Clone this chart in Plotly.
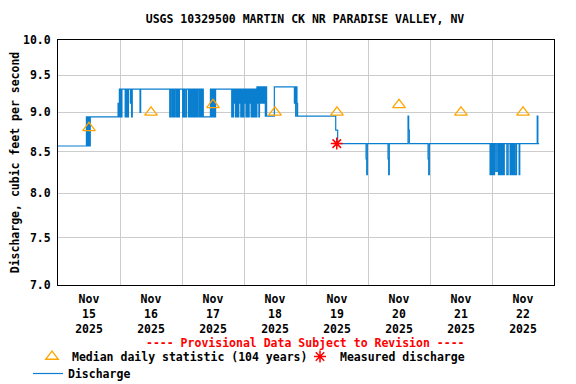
import plotly.graph_objects as go
import pandas as pd

# ---------------- data ----------------
start = pd.Timestamp("2025-11-15 00:00")

# Discharge (cfs), step changes: hours after 2025-11-15 00:00 and value from that time on
q_hours = [
    0.0, 11.0, 11.25, 11.5, 11.75, 12.0, 12.25, 12.5,
    23.25, 23.5, 23.75, 24.0, 24.25, 24.5, 24.75,
    26.0, 26.25, 26.5, 26.75, 27.0, 27.25,
    28.0, 28.25, 28.5, 28.75,
    31.75, 32.0,
    43.25, 43.5,
    44.0, 44.25, 44.5, 44.75, 45.0, 45.25,
    45.75, 46.0, 46.25, 46.5, 46.75, 47.0,
    48.25, 48.5, 48.75, 49.0, 49.25, 49.75,
    50.5, 50.75, 51.0, 51.25, 51.5, 51.75, 52.0, 52.25, 52.5, 52.75, 53.0, 53.25, 53.5, 53.75, 54.0, 54.25,
    54.75, 55.0, 55.25, 55.5, 55.75, 56.0, 56.25,
    59.0, 59.25, 59.5, 59.75, 60.0, 60.25, 60.5, 60.75, 61.0,
    67.25, 67.5, 67.75, 68.0, 68.25, 68.5, 68.75, 69.0, 69.25, 69.5, 69.75, 70.0,
    70.25, 70.5, 70.75, 71.0, 71.25, 71.5, 71.75, 72.0, 72.25, 72.5, 72.75, 73.0,
    73.25, 73.5, 73.75, 74.0, 74.25, 74.5, 74.75, 75.0, 75.25, 75.5, 75.75, 76.0,
    76.25, 76.5, 76.75,
    77.0, 77.25, 77.5, 77.75, 78.0, 78.25, 78.5, 78.75, 79.0, 79.25, 79.5, 79.75,
    80.0, 80.25, 80.5, 80.75,
    83.75,
    91.5, 91.75, 92.0, 92.25, 92.5, 92.75,
    107.5, 108.25,
    119.25, 119.5, 119.75,
    127.75, 128.0, 128.25,
    135.5, 135.75, 136.0,
    143.25, 143.5, 143.75,
    167.25, 167.5, 167.75, 168.0, 168.25, 168.5, 168.75, 169.0,
    169.5, 170.0,
    170.5, 170.75, 171.0, 171.25, 171.5, 171.75, 172.0, 172.25, 172.5, 172.75,
    173.75, 174.25,
    175.0, 175.25, 175.5, 175.75, 176.0, 176.25, 176.5, 176.75, 177.0, 177.5,
    178.5, 178.75,
    185.5, 185.75, 186.25,
]
q_cfs = [
    8.57, 8.94, 8.57, 8.94, 8.57, 8.94, 8.57, 8.94,
    9.12, 8.94, 9.31, 8.94, 9.31, 8.94, 9.31,
    8.94, 9.31, 8.94, 9.31, 8.94, 9.31,
    9.12, 9.31, 8.94, 9.31,
    9.00, 9.31,
    8.94, 9.31,
    8.94, 9.31, 8.94, 9.31, 8.94, 9.31,
    8.94, 9.31, 8.94, 9.31, 8.94, 9.31,
    8.94, 9.31, 8.94, 9.31, 8.94, 9.31,
    8.94, 9.31, 8.94, 9.31, 8.94, 9.31, 8.94, 9.31, 8.94, 9.31, 8.94, 9.31, 8.94, 9.31, 8.94, 9.31,
    8.94, 9.31, 8.94, 9.31, 8.94, 9.31, 8.94,
    9.31, 8.94, 9.31, 8.94, 9.31, 8.94, 9.31, 8.94, 9.31,
    8.94, 9.31, 8.94, 9.31, 9.12, 9.31, 8.94, 9.31, 8.94, 9.31, 8.94, 9.31,
    9.12, 9.31, 8.94, 9.31, 8.94, 9.31, 8.94, 9.31, 9.12, 9.31, 8.94, 9.31,
    8.94, 9.31, 8.94, 9.31, 9.12, 9.31, 8.94, 9.31, 8.94, 9.31, 8.94, 9.31,
    8.94, 9.31, 8.94,
    9.34, 9.12, 9.34, 8.94, 9.34, 9.12, 9.34, 9.12, 9.34, 9.12, 9.34, 9.12,
    9.34, 8.95, 9.34, 8.95,
    9.34,
    9.12, 9.34, 8.95, 9.34, 9.12, 8.95,
    8.77, 8.60,
    8.41, 8.22, 8.60,
    8.41, 8.22, 8.60,
    8.95, 8.77, 8.60,
    8.41, 8.22, 8.60,
    8.22, 8.60, 8.22, 8.60, 8.22, 8.60, 8.22, 8.60,
    8.26, 8.60,
    8.22, 8.60, 8.22, 8.60, 8.22, 8.60, 8.22, 8.60, 8.22, 8.60,
    8.22, 8.60,
    8.22, 8.60, 8.22, 8.60, 8.22, 8.60, 8.22, 8.60, 8.22, 8.60,
    8.22, 8.60,
    8.95, 8.60, 8.60,
]

# Median daily statistic (104 years), plotted at noon of each day
median_days = ["2025-11-15", "2025-11-16", "2025-11-17", "2025-11-18",
               "2025-11-19", "2025-11-20", "2025-11-21", "2025-11-22"]
median_cfs = [8.8, 9.0, 9.1, 9.0, 9.0, 9.1, 9.0, 9.0]

# Measured discharge
measured_time = ["2025-11-19 11:55"]
measured_cfs = [8.6]

# Axis ticks
day_labels = ["Nov<br>15<br>2025", "Nov<br>16<br>2025", "Nov<br>17<br>2025", "Nov<br>18<br>2025",
              "Nov<br>19<br>2025", "Nov<br>20<br>2025", "Nov<br>21<br>2025", "Nov<br>22<br>2025"]
y_ticks = [7.0, 7.5, 8.0, 8.5, 9.0, 9.5, 10.0]
y_ticktext = ["7.0", "7.5", "8.0", "8.5", "9.0", "9.5", "10.0"]

# ---------------- figure ----------------
FONT = "DejaVu Sans Mono"
BLUE = "#0a7fd0"
OFF = 8                       # page body margin of the browser
FW, FH = 576 - OFF, 384 - OFF
L, T, W, H = 58 - OFF, 40 - OFF, 496, 245   # plot area in figure pixels


def py(screen_y):
    """screen pixel row -> paper y"""
    return (T + H - (screen_y - OFF)) / H


def px(screen_x):
    """screen pixel column -> paper x"""
    return (screen_x - OFF - L) / W


q_times = [start + pd.Timedelta(hours=h) for h in q_hours]
median_times = [pd.Timestamp(d) + pd.Timedelta(hours=12) for d in median_days]
day_starts = [pd.Timestamp(d) for d in median_days] + [pd.Timestamp("2025-11-23")]

fig = go.Figure()
fig.add_trace(go.Scatter(
    x=q_times, y=q_cfs, mode="lines", name="Discharge", legend="legend2",
    line=dict(color=BLUE, width=1.2, shape="hv"),
))
fig.add_trace(go.Scatter(
    x=median_times, y=median_cfs, mode="markers",
    name="Median daily statistic (104 years)", legendrank=1,
    marker=dict(symbol="triangle-up-open", size=11, color="#FFA500", line=dict(width=1.3)),
))
fig.add_trace(go.Scatter(
    x=measured_time, y=measured_cfs, mode="markers",
    name="Measured discharge", legendrank=2,
    marker=dict(symbol="asterisk-open", size=10, color="red", line=dict(width=1.5, color="red")),
))

legend_font = dict(family=FONT, size=11.5, weight="bold")
fig.update_layout(
    width=FW, height=FH,
    margin=dict(l=L, r=FW - L - W, t=T, b=FH - T - H, autoexpand=False),
    paper_bgcolor="white", plot_bgcolor="white",
    font=dict(family=FONT, size=11.5, color="black", weight="bold"),
    title=dict(text="USGS 10329500 MARTIN CK NR PARADISE VALLEY, NV",
               xref="container", x=(305 - OFF) / FW, xanchor="center",
               yref="container", y=1 - (19 - OFF) / FH, yanchor="middle",
               font=dict(family=FONT, size=11.5, weight="bold")),
    showlegend=True,
    legend=dict(orientation="h", xref="paper", yref="paper",
                x=px(32), xanchor="left", y=py(342), yanchor="top",
                traceorder="normal", entrywidth=223, entrywidthmode="pixels",
                font=legend_font, itemwidth=30, bgcolor="rgba(0,0,0,0)"),
    legend2=dict(orientation="h", xref="paper", yref="paper",
                 x=px(28), xanchor="left", y=py(359), yanchor="top",
                 font=legend_font, itemwidth=30, bgcolor="rgba(0,0,0,0)"),
    annotations=[dict(text="---- Provisional Data Subject to Revision ----",
                      xref="paper", yref="paper", x=px(305), y=py(343),
                      xanchor="center", yanchor="middle", showarrow=False,
                      font=dict(family=FONT, size=11.5, color="red", weight="bold"))],
)

fig.update_xaxes(
    range=[day_starts[0], day_starts[-1]], automargin=False,
    tickvals=median_times, ticktext=day_labels, ticks="", ticklabelstandoff=3,
    showgrid=False, showline=True, linecolor="black", linewidth=1, mirror=True,
    minor=dict(tickvals=day_starts, showgrid=True, gridcolor="#cccccc", gridwidth=1, ticks=""),
    zeroline=False, tickfont=dict(family=FONT, size=11.5, weight="bold"),
)
fig.update_yaxes(
    type="log", range=[0.84509804, 1.0], automargin=False,
    tickvals=y_ticks, ticktext=y_ticktext, ticks="", ticklabelstandoff=4,
    showgrid=True, gridcolor="#cccccc", gridwidth=1,
    showline=True, linecolor="black", linewidth=1, mirror=True,
    zeroline=False, tickfont=dict(family=FONT, size=11.5, weight="bold"),
    title=dict(text="Discharge, cubic feet per second", standoff=3,
               font=dict(family=FONT, size=11.5, weight="bold")),
)

fig.write_html("out.html")
